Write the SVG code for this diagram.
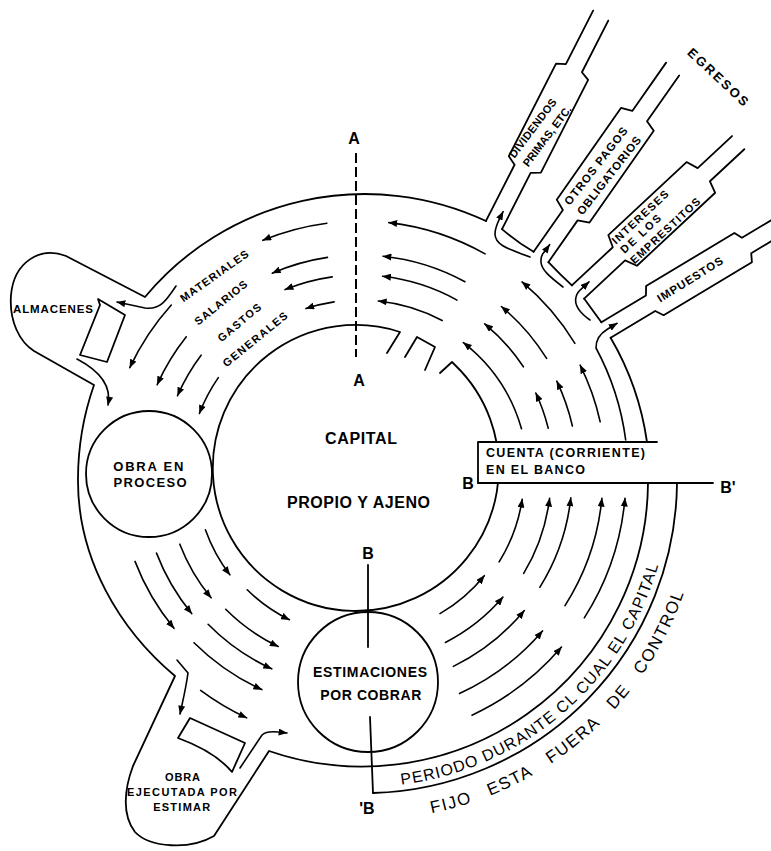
<svg xmlns="http://www.w3.org/2000/svg" width="771" height="851" viewBox="0 0 771 851">
<defs>
<marker id="ah" viewBox="0 0 10 8" refX="9.5" refY="4" markerWidth="9" markerHeight="7" markerUnits="userSpaceOnUse" orient="auto"><path d="M0,0 L10,4 L0,8 Z" fill="#000"/></marker>
<style>
.l{fill:none;stroke:#000;stroke-width:1.8;stroke-linecap:round;stroke-linejoin:round}
.a{fill:none;stroke:#000;stroke-width:1.6;stroke-linecap:round;marker-end:url(#ah)}
.t{font-family:"Liberation Sans",Arial,Helvetica,sans-serif;font-weight:bold;fill:#000}
.r{font-family:"Liberation Sans",Arial,Helvetica,sans-serif;font-weight:normal;fill:#000}
.p{font-size:16px;letter-spacing:1.1px}
.f{font-size:17px;letter-spacing:1.5px}
</style>
<path id="arcP" d="M401.3,784.7 A306,306 0 0 0 660.9,555"/>
<path id="arcF" d="M431.6,813.2 A339,339 0 0 0 692.9,563"/>
</defs>
<rect width="771" height="851" fill="#fff"/>

<g id="ring">
<path class="l" d="M486,221 A286,286 0 0 0 145,297 L66,256 C40,246 14,262 11,295 C9,322 20,342 34,351 L94,385 A286,286 0 0 0 78,481 C78,560 120,630 175,676 L133,766 C124,790 122,815 135,832 C150,848 190,850 214,836 L269,751 A286,286 0 0 0 648,483"/>
<path class="l" d="M647,442 A286,286 0 0 0 610.6,337.7"/>
<path class="l" d="M502,229.1 Q517,242 533.6,251.8"/>
<path class="l" d="M548.4,262.2 Q560.5,275 571.9,285.4"/>
<path class="l" d="M584.1,298.6 Q593,311 601.4,322.3"/>
<path class="l" d="M373,793 A313,313 0 0 0 677,483"/>
</g>

<g id="periodo-label">
<text class="r p"><textPath href="#arcP" startOffset="0">PERIODO</textPath></text>
<text class="r p"><textPath href="#arcP" startOffset="87">DURANTE</textPath></text>
<text class="r p"><textPath href="#arcP" startOffset="177.6">CL</textPath></text>
<text class="r p"><textPath href="#arcP" startOffset="205.7">CUAL</textPath></text>
<text class="r p"><textPath href="#arcP" startOffset="258.4">EL</textPath></text>
<text class="r p"><textPath href="#arcP" startOffset="285.7">CAPITAL</textPath></text>
<text class="r f"><textPath href="#arcF" startOffset="0">FIJO</textPath></text>
<text class="r f"><textPath href="#arcF" startOffset="61">ESTA</textPath></text>
<text class="r f"><textPath href="#arcF" startOffset="129.6">FUERA</textPath></text>
<text class="r f"><textPath href="#arcF" startOffset="212.9">DE</textPath></text>
<text class="r f"><textPath href="#arcF" startOffset="257.7">CONTROL</textPath></text>
</g>

<g id="egreso-dividendos" transform="translate(494,225) rotate(-63)">
<path class="l" d="M0,-9 L63,-9 L68,-18 L172,-18 L176,-9 L236,-9"/>
<path class="l" d="M0,9 L63,9 L68,18 L172,18 L176,9 L234,9"/>
<text class="t" font-size="11" transform="translate(104,-9.6) rotate(10)" y="4" text-anchor="middle" textLength="71">DIVIDENDOS</text>
<text class="t" font-size="11" transform="translate(103.4,6.8) rotate(10)" y="4" text-anchor="middle" textLength="73">PRIMAS, ETC.</text>
</g>
<g id="egreso-otros" transform="translate(541,257) rotate(-55)">
<path class="l" d="M0,-9 L51,-9 L56,-20 L168,-20 L172,-9 L231,-9"/>
<path class="l" d="M0,9 L51,9 L56,20 L168,20 L172,9 L228,9"/>
<text class="t" font-size="11.5" transform="translate(106,-7.2) rotate(3)" y="4" text-anchor="middle" textLength="95">OTROS PAGOS</text>
<text class="t" font-size="11.5" transform="translate(105.7,8.9) rotate(3)" y="4" text-anchor="middle" textLength="96">OBLIGATORIOS</text>
</g>
<g id="egreso-intereses" transform="translate(578,292) rotate(-43)">
<path class="l" d="M0,-9 L56,-9 L61,-21 L168,-21 L172,-9 L219,-9"/>
<path class="l" d="M0,9 L56,9 L61,21 L168,21 L172,9 L219,9"/>
<text class="t" font-size="11" x="60" y="-8.5" textLength="73">INTERESES</text>
<text class="t" font-size="11" x="60" y="4" textLength="51">DE LOS</text>
<text class="t" font-size="11" x="60" y="18.5" textLength="91">EMPRESTITOS</text>
</g>
<g id="egreso-impuestos" transform="translate(606,330) rotate(-31)">
<path class="l" d="M0,-9 L52,-9 L57,-17 L160,-17 L164,-9 L250,-9"/>
<path class="l" d="M0,9 L52,9 L57,17 L160,17 L164,9 L250,9"/>
<text class="t" font-size="11.5" transform="translate(98,0) rotate(-1)" y="4" text-anchor="middle" textLength="75">IMPUESTOS</text>
</g>
<g id="egresos-label">
<text class="t" font-size="13" transform="translate(718,77) rotate(43)" y="4.5" text-anchor="middle" textLength="78">EGRESOS</text>
</g>

<g id="capital">
<path class="l" d="M440,373 L452,362 L455,365 A143,143 0 1 1 400,332 L387,353"/>
<path class="l" d="M405,357 L417,337 L435,347 L425,370"/>
<text class="t" font-size="16" x="361" y="443.7" text-anchor="middle" textLength="72">CAPITAL</text>
<text class="t" font-size="16" x="358.5" y="507.5" text-anchor="middle" textLength="143">PROPIO Y AJENO</text>
</g>

<g id="obra-en-proceso">
<circle class="l" cx="149" cy="474" r="63" fill="#fff"/>
<text class="t" font-size="13" x="148.3" y="471.4" text-anchor="middle" textLength="70">OBRA EN</text>
<text class="t" font-size="13" x="150" y="487.4" text-anchor="middle" textLength="73">PROCESO</text>
</g>

<g id="estimaciones">
<circle class="l" cx="368" cy="682" r="70" fill="#fff"/>
<text class="t" font-size="14" x="370" y="676.7" text-anchor="middle" textLength="114">ESTIMACIONES</text>
<text class="t" font-size="14" x="370.8" y="700" text-anchor="middle" textLength="101">POR COBRAR</text>
</g>

<g id="almacenes">
<path class="l" d="M98,299 L125,315 L107,362 L80,355 L100,305 Z"/>
<text class="t" font-size="11.5" x="53" y="312.5" text-anchor="middle" textLength="80">ALMACENES</text>
</g>

<g id="obra-ejecutada">
<path class="l" d="M190,718 L245,743 L232,772 Q215,751.6 178,738 Z"/>
<text class="t" font-size="11" x="182.5" y="780.7" text-anchor="middle" textLength="35">OBRA</text>
<text class="t" font-size="11" x="182" y="795.7" text-anchor="middle" textLength="110">EJECUTADA POR</text>
<text class="t" font-size="11" x="181.7" y="810.7" text-anchor="middle" textLength="57">ESTIMAR</text>
</g>

<g id="cuenta-banco">
<rect x="478" y="442" width="179" height="41" fill="#fff"/>
<path class="l" d="M657,442 L478,442 L478,483"/>
<text class="t" font-size="12.5" x="486" y="456.5" textLength="159">CUENTA (CORRIENTE)</text>
<text class="t" font-size="12.5" x="486" y="473.8" textLength="99">EN EL BANCO</text>
</g>

<g id="secciones">
<path d="M356,153 L356,357" fill="none" stroke="#000" stroke-width="2" stroke-dasharray="10 4"/>
<text class="t" font-size="16" x="354" y="144" text-anchor="middle">A</text>
<text class="t" font-size="16" x="359" y="386" text-anchor="middle">A</text>
<path class="l" d="M368,565 L368,647"/>
<text class="t" font-size="16" x="368" y="559" text-anchor="middle">B</text>
<path class="l" d="M478,483 L713,483"/>
<text class="t" font-size="16" x="468" y="489" text-anchor="middle">B</text>
<text class="t" font-size="16" x="728" y="493" text-anchor="middle">B'</text>
<path class="l" d="M370,717 L373,793"/>
<text class="t" font-size="16" x="367" y="814" text-anchor="middle">'B</text>
</g>

<g id="labels-costos">
<text class="t" font-size="11" transform="translate(214.2,275.8) rotate(-35.3)" y="4" text-anchor="middle" textLength="81">MATERIALES</text>
<text class="t" font-size="11" transform="translate(220.8,302.5) rotate(-38.8)" y="4" text-anchor="middle" textLength="64">SALARIOS</text>
<text class="t" font-size="11" transform="translate(239.2,322.5) rotate(-40)" y="4" text-anchor="middle" textLength="53">GASTOS</text>
<text class="t" font-size="11" transform="translate(255,339.2) rotate(-39.2)" y="4" text-anchor="middle" textLength="80">GENERALES</text>
</g>

<g id="connectors">
<path class="a" d="M485.1,253.9 A254,254 0 0 0 388.8,222.6"/>
<path class="a" d="M465.0,281.7 A220,220 0 0 0 383.0,256.2"/>
<path class="a" d="M457.0,300.1 A200,200 0 0 0 382.6,276.3"/>
<path class="a" d="M442.2,320.5 A175,175 0 0 0 378.3,301.0"/>
<path class="a" d="M326.9,223.2 A254,254 0 0 0 262.8,240.3"/>
<path class="a" d="M327.5,257.4 A220,220 0 0 0 272.3,273.2"/>
<path class="a" d="M332.2,276.9 A200,200 0 0 0 285.1,289.6"/>
<path class="a" d="M334.1,301.9 A175,175 0 0 0 305.9,308.6"/>
<path class="a" d="M171.3,305.0 A254,254 0 0 0 129.8,367.7"/>
<path class="a" d="M186.3,336.8 A222,222 0 0 0 157.2,384.7"/>
<path class="a" d="M201.1,355.2 A199,199 0 0 0 177.5,395.7"/>
<path class="a" d="M218.3,377.6 A172,172 0 0 0 199.4,413.4"/>
<path class="a" d="M521.5,428.7 A168,168 0 0 0 463.4,342.6"/>
<path class="a" d="M523.4,366.8 A196,196 0 0 0 484.7,323.8"/>
<path class="a" d="M546.6,358.4 A220,220 0 0 0 501.4,306.5"/>
<path class="a" d="M574.9,343.3 A252,252 0 0 0 522.0,281.9"/>
<path class="a" d="M548.2,428.1 A194,194 0 0 0 535.8,393.0"/>
<path class="a" d="M572.4,426.0 A218,218 0 0 0 556.8,381.2"/>
<path class="a" d="M600.2,421.8 A246,246 0 0 0 580.1,365.2"/>
<path class="a" d="M499.1,561.9 A164,164 0 0 0 522.2,499.2"/>
<path class="a" d="M523.7,573.4 A191,191 0 0 0 549.6,498.3"/>
<path class="a" d="M539.8,587.3 A212,212 0 0 0 570.8,497.9"/>
<path class="a" d="M565.0,605.6 A243,243 0 0 0 601.9,498.3"/>
<path class="a" d="M584.3,617.9 A266,266 0 0 0 625.0,498.2"/>
<path class="a" d="M440.0,613.6 A160,160 0 0 0 484.3,575.7"/>
<path class="a" d="M445.4,642.5 A188,188 0 0 0 503.0,597.1"/>
<path class="a" d="M453.4,666.4 A213,213 0 0 0 524.3,610.5"/>
<path class="a" d="M459.5,693.4 A240,240 0 0 0 542.5,630.9"/>
<path class="a" d="M472.0,715.2 A265,265 0 0 0 561.5,647.1"/>
<path class="a" d="M205.4,529.7 A164,164 0 0 0 229.9,574.8"/>
<path class="a" d="M179.8,544.2 A193,193 0 0 0 211.1,597.8"/>
<path class="a" d="M156.5,553.1 A218,218 0 0 0 191.8,613.7"/>
<path class="a" d="M135.0,561.4 A241,241 0 0 0 174.0,628.3"/>
<path class="a" d="M247.2,589.8 A161,161 0 0 0 289.4,619.7"/>
<path class="a" d="M225.7,609.3 A190,190 0 0 0 278.2,646.5"/>
<path class="a" d="M208.1,624.3 A213,213 0 0 0 271.7,668.8"/>
<path class="a" d="M194.0,642.7 A236,236 0 0 0 261.8,689.6"/>
<path class="a" d="M200.6,690.4 A268,268 0 0 0 246.7,717.9"/>
<path class="a" d="M530,257 C512,250 495,246 495,234 C495,228 497,224 499.5,218.7 L503.1,211.6"/>
<path class="a" d="M563,287 C550,277 540,269 541,260 C541,256 542,254 545,251.2 L549.6,244.7"/>
<path class="a" d="M590,320 C580,313 574,305 576,297 C577,292 580,290 583.2,287.3 L589,281.8"/>
<path class="a" d="M625.7,440 A268,268 0 0 0 596,348 Q595.7,336.2 607.7,329 L617.1,323.3"/>
<path class="a" d="M176,286 C166,301 160,310 145,308 L117,302"/>
<path class="a" d="M77,359 C98,370 112,385 108,405"/>
<path class="a" d="M177,660 L188,673 C186,688 183,700 180,714"/>
<path class="a" d="M240,768 L262,735 Q266,731 278,732 L287,733"/>
</g>
</svg>
